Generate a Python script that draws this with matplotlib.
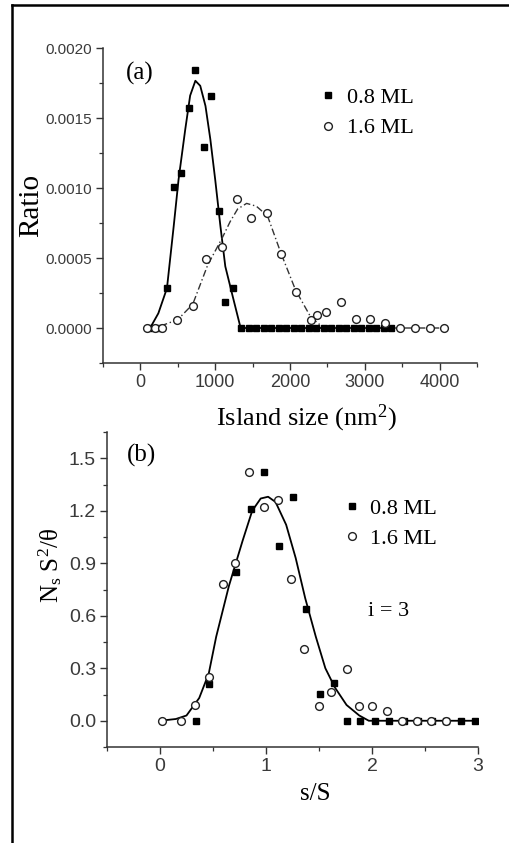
import matplotlib
matplotlib.use("Agg")
import matplotlib.pyplot as plt
from matplotlib.ticker import MultipleLocator, FormatStrFormatter
from matplotlib.lines import Line2D

plt.rcParams['mathtext.fontset'] = 'custom'
plt.rcParams['mathtext.rm'] = 'Liberation Serif'
plt.rcParams['mathtext.it'] = 'Liberation Serif:italic'

SERIF = ['Liberation Serif', 'DejaVu Serif']
SANS = ['Liberation Sans', 'DejaVu Sans']

# ---------------- Panel (a) data ----------------
a_low_x = [130, 250, 350, 455, 545, 645, 735, 845, 945, 1045, 1135, 1235,
           1350, 1450, 1550, 1650, 1750, 1850, 1950, 2050, 2150, 2250, 2350,
           2450, 2550, 2650, 2750, 2850, 2950, 3050, 3150, 3250, 3350]
a_low_y = [0.0, 0.0, 0.000285, 0.00101, 0.00111, 0.001575, 0.00184, 0.00129,
           0.00166, 0.000834, 0.000189, 0.000285,
           0, 0, 0, 0, 0, 0, 0, 0, 0, 0, 0, 0, 0, 0, 0, 0, 0, 0, 0, 0, 0]

a_high_x = [85, 195, 295, 490, 700, 875, 1090, 1295, 1485, 1695, 1875, 2075,
            2275, 2365, 2480, 2680, 2880, 3070, 3275, 3465, 3665, 3865, 4065]
a_high_y = [0.0, 0.0, 0.0, 0.000057, 0.000158, 0.000492, 0.000578, 0.000918,
            0.000786, 0.000822, 0.00053, 0.00026, 0.000057, 0.000093,
            0.000117, 0.000189, 0.000062, 0.000062, 0.000034, 0.0, 0.0, 0.0, 0.0]

a_fit_low_x = [130, 240, 355, 445, 510, 600, 665, 735, 800, 870, 935, 1000,
               1070, 1135, 1235, 1340, 3350]
a_fit_low_y = [0.0, 0.000105, 0.000284, 0.000726, 0.00106, 0.00142, 0.00166,
               0.001766, 0.00173, 0.001586, 0.001348, 0.00106, 0.000726,
               0.00044, 0.000224, 0.0, 0.0]

a_fit_high_x = [85, 300, 500, 700, 800, 900, 1000, 1100, 1200, 1300, 1420,
                1550, 1700, 1875, 2075, 2275, 2450, 4065]
a_fit_high_y = [0.0, 0.00002, 0.00006, 0.00017, 0.00031, 0.00045, 0.00055,
                0.00065, 0.00076, 0.00085, 0.00089, 0.00087, 0.00080,
                0.00054, 0.00027, 0.00008, 0.0, 0.0]

# ---------------- Panel (b) data ----------------
b_low_x = [0.34, 0.46, 0.72, 0.86, 0.98, 1.12, 1.25, 1.38, 1.51, 1.64,
           1.76, 1.89, 2.03, 2.16, 2.30, 2.43, 2.57, 2.70, 2.84, 2.97]
b_low_y = [0.0, 0.21, 0.85, 1.21, 1.42, 1.00, 1.28, 0.64, 0.155, 0.217,
           0, 0, 0, 0, 0, 0, 0, 0, 0, 0]

b_high_x = [0.02, 0.20, 0.33, 0.46, 0.59, 0.71, 0.835, 0.98, 1.11, 1.24,
            1.36, 1.50, 1.615, 1.76, 1.88, 2.00, 2.14, 2.28, 2.42, 2.56, 2.70]
b_high_y = [0.0, 0.0, 0.09, 0.25, 0.78, 0.90, 1.42, 1.22, 1.26, 0.81,
            0.41, 0.085, 0.165, 0.295, 0.087, 0.087, 0.058, 0, 0, 0, 0]

b_fit_x = [0.0, 0.15, 0.25, 0.37, 0.46, 0.53, 0.65, 0.78, 0.87, 0.95, 1.02,
           1.09, 1.19, 1.28, 1.37, 1.47, 1.56, 1.65, 1.76, 1.88, 1.97, 2.97]
b_fit_y = [0.0, 0.01, 0.03, 0.13, 0.27, 0.48, 0.77, 1.03, 1.20, 1.27, 1.28,
           1.25, 1.12, 0.93, 0.70, 0.48, 0.30, 0.19, 0.09, 0.03, 0.0, 0.0]

label_low = '0.8 ML'
label_high = '1.6 ML'

W, H = 509, 843
fig = plt.figure(figsize=(W / 100, H / 100), dpi=100)

# frame (top and left edges as in the scanned figure)
fig.add_artist(Line2D([12 / W, 12 / W], [0, 1 - 5 / H], color='black', lw=1.8,
                      transform=fig.transFigure))
fig.add_artist(Line2D([12 / W, 1], [1 - 5 / H, 1 - 5 / H], color='black', lw=1.8,
                      transform=fig.transFigure))

axis_col = '#333333'
tick_col = '#3a3a3a'


def style(ax, ysize, xsize):
    for s in ['top', 'right']:
        ax.spines[s].set_visible(False)
    for s in ['left', 'bottom']:
        ax.spines[s].set_color(axis_col)
        ax.spines[s].set_linewidth(1.1)
    ax.tick_params(which='major', direction='out', length=5, width=1.0,
                   color=axis_col, pad=3)
    ax.tick_params(which='minor', direction='out', length=3, width=0.9,
                   color=axis_col)
    for lab in ax.get_yticklabels():
        lab.set_fontfamily(SANS)
        lab.set_fontsize(ysize)
        lab.set_color(tick_col)
    for lab in ax.get_xticklabels():
        lab.set_fontfamily(SANS)
        lab.set_fontsize(xsize)
        lab.set_color(tick_col)


# ---------------- Panel (a) ----------------
axa = fig.add_axes([103 / W, 1 - 363 / H, 374 / W, 315 / H])
axa.plot(a_fit_low_x, a_fit_low_y, color='black', lw=1.3, zorder=2)
axa.plot(a_fit_high_x, a_fit_high_y, color='#333333', lw=1.0,
         linestyle=(0, (5, 2, 1, 2)), zorder=2)
axa.plot(a_low_x, a_low_y, linestyle='none', marker='s', ms=4.4,
         mfc='black', mec='black', label=label_low, zorder=3)
axa.plot(a_high_x, a_high_y, linestyle='none', marker='o', ms=5.6,
         mfc='white', mec='#222222', mew=1.0, label=label_high, zorder=4)
axa.set_xlim(-500, 4500)
axa.set_ylim(-0.00025, 0.0020)
axa.xaxis.set_major_locator(MultipleLocator(1000))
axa.xaxis.set_minor_locator(MultipleLocator(500))
axa.yaxis.set_major_locator(MultipleLocator(0.0005))
axa.yaxis.set_minor_locator(MultipleLocator(0.00025))
axa.yaxis.set_major_formatter(FormatStrFormatter('%.4f'))
axa.xaxis.set_major_formatter(FormatStrFormatter('%d'))
style(axa, 11, 13)
axa.set_ylabel('Ratio', fontfamily=SERIF, fontsize=21)
axa.yaxis.set_label_coords(-0.158, 0.5)
axa.set_xlabel('Island size (nm$^\\mathrm{2}$)', fontfamily=SERIF, fontsize=19)
axa.xaxis.set_label_coords(0.543, -0.125)
axa.text(0.099, 0.92, '(a)', transform=axa.transAxes, fontfamily=SERIF,
         fontsize=18, ha='center', va='center')
axa.legend(loc='upper left', bbox_to_anchor=(0.572, 0.875), frameon=False,
           prop={'family': SERIF, 'size': 16}, handlelength=1.0,
           handletextpad=0.35, borderpad=0, borderaxespad=0, labelspacing=0.45)

# ---------------- Panel (b) ----------------
axb = fig.add_axes([107 / W, 1 - 747 / H, 371 / W, 315 / H])
axb.plot(b_fit_x, b_fit_y, color='black', lw=1.3, zorder=2)
axb.plot(b_low_x, b_low_y, linestyle='none', marker='s', ms=4.4,
         mfc='black', mec='black', label=label_low, zorder=3)
axb.plot(b_high_x, b_high_y, linestyle='none', marker='o', ms=5.6,
         mfc='white', mec='#222222', mew=1.0, label=label_high, zorder=4)
axb.set_xlim(-0.5, 3.0)
axb.set_ylim(-0.15, 1.65)
axb.xaxis.set_major_locator(MultipleLocator(1))
axb.xaxis.set_minor_locator(MultipleLocator(0.5))
axb.yaxis.set_major_locator(MultipleLocator(0.3))
axb.yaxis.set_minor_locator(MultipleLocator(0.15))
axb.yaxis.set_major_formatter(FormatStrFormatter('%.1f'))
axb.xaxis.set_major_formatter(FormatStrFormatter('%d'))
style(axb, 14, 14)
axb.set_ylabel('N$_\\mathrm{s}$ S$^\\mathrm{2}$/θ', fontfamily=SERIF, fontsize=18)
axb.yaxis.set_label_coords(-0.116, 0.578)
axb.set_xlabel('s/S', fontfamily=SERIF, fontsize=18)
axb.xaxis.set_label_coords(0.56, -0.115)
axb.text(0.092, 0.927, '(b)', transform=axb.transAxes, fontfamily=SERIF,
         fontsize=18, ha='center', va='center')
axb.text(0.76, 0.43, 'i = 3', transform=axb.transAxes, fontfamily=SERIF,
         fontsize=16, ha='center', va='center')
axb.legend(loc='upper left', bbox_to_anchor=(0.63, 0.79), frameon=False,
           prop={'family': SERIF, 'size': 16}, handlelength=1.0,
           handletextpad=0.3, borderpad=0, borderaxespad=0, labelspacing=0.45)

fig.savefig('out.png', dpi=100)
